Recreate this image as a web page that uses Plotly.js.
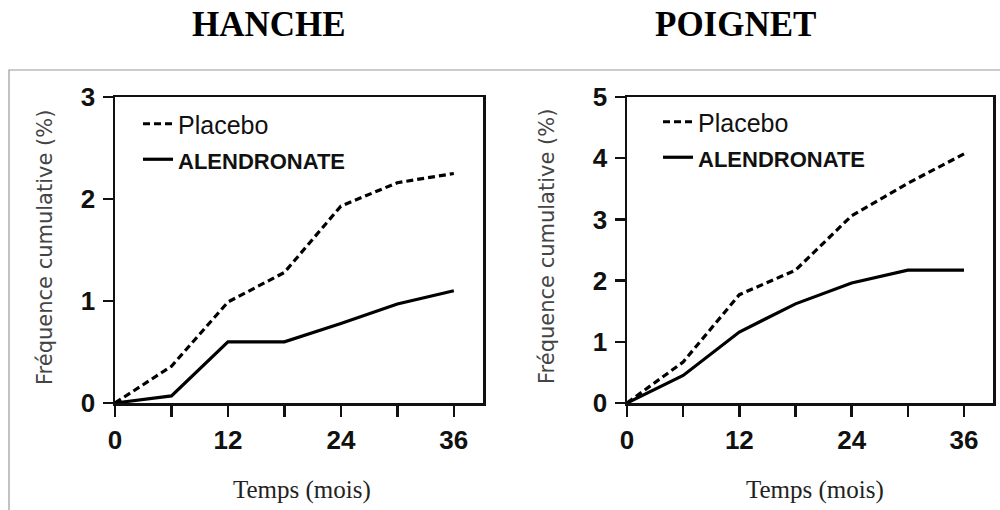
<!DOCTYPE html>
<html>
<head>
<meta charset="utf-8">
<script src="https://cdn.plot.ly/plotly-3.0.1.min.js"></script>
<style>
html,body{margin:0;padding:0;background:#fff;}
#chart{width:1000px;height:510px;}
</style>
</head>
<body>
<div id="chart"></div>
<script>
// ---- data ----
const months = [0, 6, 12, 18, 24, 30, 36];
const seriesNames = ["Placebo", "ALENDRONATE"];
const panelTitles = ["HANCHE", "POIGNET"];
const hanchePlacebo = [0, 0.36, 0.99, 1.28, 1.93, 2.16, 2.25];
const hancheAlendronate = [0, 0.07, 0.6, 0.6, 0.78, 0.97, 1.1];
const poignetPlacebo = [0, 0.67, 1.77, 2.17, 3.06, 3.59, 4.07];
const poignetAlendronate = [0, 0.45, 1.16, 1.62, 1.96, 2.17, 2.17];
const xTickVals = [0, 6, 12, 18, 24, 30, 36];
const xTickText = ["0", "", "12", "", "24", "", "36"];
const hancheYTicks = [0, 1, 2, 3];
const poignetYTicks = [0, 1, 2, 3, 4, 5];
const xTitle = "Temps (mois)";
const yTitle = "Fréquence cumulative (%)";

const W = 1000, H = 510;
const px = v => v / W;
const py = v => 1 - v / H;

const dashStyle = "7px,4px";
const legendNames = [
  seriesNames[0],
  '<span style="font-size:22px;font-weight:bold">' + seriesNames[1] + '</span>'
];

function mk(x, y, xa, ya, dashed, name, legend) {
  return {
    x: x, y: y, xaxis: xa, yaxis: ya, type: 'scatter', mode: 'lines',
    name: name, legend: legend, showlegend: true, legendgroup: legend + name,
    line: {color: '#000', width: 3.2, dash: dashed ? dashStyle : 'solid'},
    hoverinfo: 'skip'
  };
}

const traces = [
  mk(months, hanchePlacebo, 'x', 'y', true, legendNames[0], 'legend'),
  mk(months, hancheAlendronate, 'x', 'y', false, legendNames[1], 'legend'),
  mk(months, poignetPlacebo, 'x2', 'y2', true, legendNames[0], 'legend2'),
  mk(months, poignetAlendronate, 'x2', 'y2', false, legendNames[1], 'legend2')
];

const tickFont = {family: '"Liberation Sans", Arial, sans-serif', size: 26, color: '#111', weight: 'bold'};

function xax(domain) {
  return {
    domain: domain, range: [0, 39.1], showgrid: false, zeroline: false,
    showline: true, mirror: true, linecolor: '#111', linewidth: 2.5,
    ticks: 'outside', ticklen: 11, tickwidth: 2.5, tickcolor: '#111',
    tickvals: xTickVals, ticktext: xTickText, tickfont: tickFont,
    ticklabelstandoff: 1, fixedrange: true
  };
}
function yax(domain, range, ticks, anchor) {
  return {
    domain: domain, range: range, showgrid: false, zeroline: false,
    showline: true, mirror: true, linecolor: '#111', linewidth: 2.5,
    ticks: 'outside', ticklen: 10, tickwidth: 2.5, tickcolor: '#111',
    tickvals: ticks, tickfont: tickFont, anchor: anchor,
    ticklabelstandoff: 2, fixedrange: true
  };
}

const yDom = [py(403), py(97)];
const legendFont = {family: '"Liberation Sans", Arial, sans-serif', size: 25, color: '#111'};
const serif = '"Liberation Serif", "Times New Roman", serif';

function ann(text, x, y, font, extra) {
  return Object.assign({text: text, xref: 'paper', yref: 'paper', x: px(x), y: py(y),
    xanchor: 'center', yanchor: 'middle', showarrow: false, font: font}, extra || {});
}

const layout = {
  width: W, height: H,
  margin: {l: 0, r: 0, t: 0, b: 0},
  paper_bgcolor: '#fff', plot_bgcolor: '#fff',
  xaxis: xax([px(115), px(483)]),
  yaxis: yax(yDom, [0, 3], hancheYTicks, 'x'),
  xaxis2: Object.assign(xax([px(627), px(993)]), {anchor: 'y2'}),
  yaxis2: yax(yDom, [0, 5], poignetYTicks, 'x2'),
  legend: {x: px(138), y: py(101), xanchor: 'left', yanchor: 'top', font: legendFont,
           bgcolor: 'rgba(0,0,0,0)', tracegroupgap: 4, traceorder: 'normal', itemwidth: 30},
  legend2: {x: px(658), y: py(99), xanchor: 'left', yanchor: 'top', font: legendFont,
            bgcolor: 'rgba(0,0,0,0)', tracegroupgap: 4, traceorder: 'normal', itemwidth: 30},
  shapes: [
    {type: 'rect', xref: 'paper', yref: 'paper', x0: px(9), x1: 1.05, y0: -0.05, y1: py(70),
     line: {color: '#9a9a9a', width: 1.2}, fillcolor: 'rgba(0,0,0,0)', layer: 'below'}
  ],
  annotations: [
    ann('<b>' + panelTitles[0] + '</b>', 269, 24, {family: serif, size: 35, color: '#000'}),
    ann('<b>' + panelTitles[1] + '</b>', 735, 24, {family: serif, size: 35, color: '#000'}),
    ann(xTitle, 302, 490, {family: serif, size: 25, color: '#222'}),
    ann(xTitle, 815, 490, {family: serif, size: 25, color: '#222'}),
    ann(yTitle, 45, 248, {family: '"DejaVu Sans", Verdana, sans-serif', size: 21, color: '#444'}, {textangle: -90}),
    ann(yTitle, 547, 247, {family: '"DejaVu Sans", Verdana, sans-serif', size: 21, color: '#444'}, {textangle: -90})
  ]
};

Plotly.newPlot('chart', traces, layout, {displayModeBar: false, staticPlot: true});
</script>
</body>
</html>
